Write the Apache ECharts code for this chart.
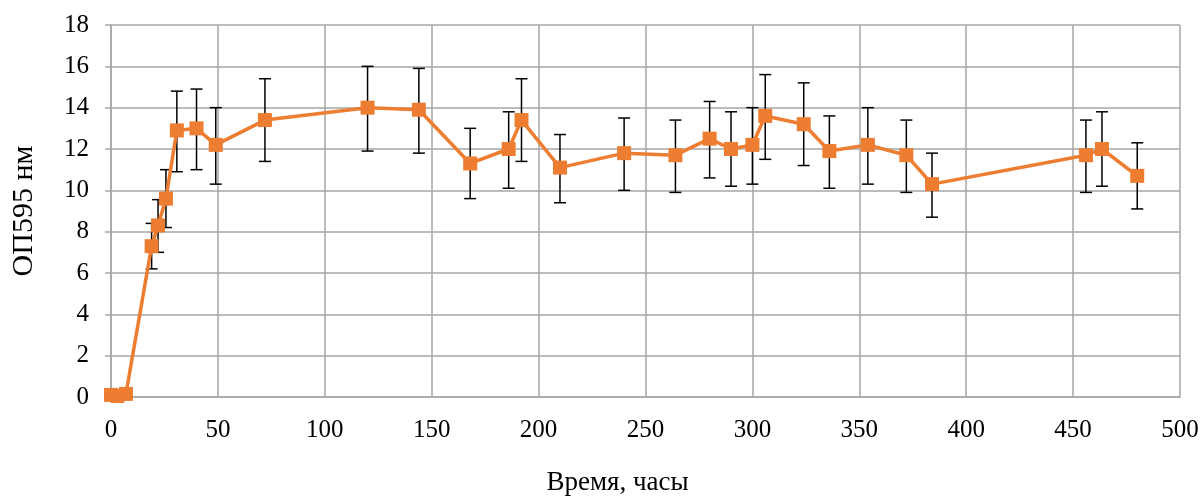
<!DOCTYPE html>
<html>
<head>
<meta charset="utf-8">
<script src="https://cdn.jsdelivr.net/npm/echarts@6/dist/echarts.min.js"></script>
<style>
  html, body { margin: 0; padding: 0; background: #fff; }
  #chart { width: 1204px; height: 497px; }
</style>
</head>
<body>
<div id="chart"></div>
<script>
// время, часы
var hours = [0, 3, 7, 19, 22, 25.7, 30.8, 40, 49, 72, 120, 144, 168, 186, 192, 210, 240, 264, 280, 290, 300, 306, 324, 336, 354, 372, 384, 456, 463.5, 480];
// ОП595
var od = [0.1, 0.05, 0.15, 7.3, 8.3, 9.6, 12.9, 13.0, 12.2, 13.4, 14.0, 13.9, 11.3, 12.0, 13.4, 11.1, 11.8, 11.7, 12.5, 12.0, 12.2, 13.6, 13.2, 11.9, 12.2, 11.7, 10.3, 11.7, 12.0, 10.7];
// верх / низ планок погрешностей
var errTop = [null, null, null, 8.4, 9.55, 11.0, 14.8, 14.9, 14.0, 15.4, 16.0, 15.9, 13.0, 13.8, 15.4, 12.7, 13.5, 13.4, 14.3, 13.8, 14.0, 15.6, 15.2, 13.6, 14.0, 13.4, 11.8, 13.4, 13.8, 12.3];
var errBottom = [null, null, null, 6.2, 7.0, 8.2, 10.9, 11.0, 10.3, 11.4, 11.9, 11.8, 9.6, 10.1, 11.4, 9.4, 10.0, 9.9, 10.6, 10.2, 10.3, 11.5, 11.2, 10.1, 10.3, 9.9, 8.7, 9.9, 10.2, 9.1];

var lineData = hours.map(function (h, i) { return [h, od[i]]; });
var errData = [];
hours.forEach(function (h, i) {
  if (errTop[i] != null) errData.push([h, errBottom[i], errTop[i]]);
});

var font = "'Liberation Serif', 'Times New Roman', serif";
var chart = echarts.init(document.getElementById("chart"));
chart.setOption({
  animation: false,
  backgroundColor: "#fff",
  grid: { left: 111, right: 24, top: 25, bottom: 100, outerBoundsMode: "none", containLabel: false },
  xAxis: {
    type: "value",
    min: 0,
    max: 500,
    interval: 50,
    name: "Время, часы",
    nameLocation: "middle",
    nameGap: 72,
    nameTextStyle: { fontFamily: font, fontSize: 27, color: "#000", padding: [0, 56, 0, 0] },
    axisLine: { show: true, lineStyle: { color: "#a6a6a6", width: 1.5 } },
    axisTick: { show: false },
    axisLabel: { fontFamily: font, fontSize: 25, color: "#000", margin: 21 },
    splitLine: { show: true, lineStyle: { color: "#a6a6a6", width: 1.5 } },
  },
  yAxis: {
    type: "value",
    min: 0,
    max: 18,
    interval: 2,
    name: "ОП595 нм",
    nameLocation: "middle",
    nameGap: 72,
    nameTextStyle: { fontFamily: font, fontSize: 30, color: "#000" },
    axisLine: { show: true, lineStyle: { color: "#a6a6a6", width: 1.5 } },
    axisTick: { show: true, length: 6, lineStyle: { color: "#a6a6a6", width: 1.5 } },
    axisLabel: { fontFamily: font, fontSize: 25, color: "#000", margin: 22 },
    splitLine: { show: true, lineStyle: { color: "#a6a6a6", width: 1.5 } },
  },
  series: [
    {
      type: "custom",
      z: 1,
      data: errData,
      renderItem: function (params, api) {
        var x = api.value(0);
        var lo = api.coord([x, api.value(1)]);
        var hi = api.coord([x, api.value(2)]);
        var cap = 6;
        var style = { stroke: "#000", lineWidth: 1.5 };
        return {
          type: "group",
          children: [
            { type: "line", shape: { x1: lo[0], y1: lo[1], x2: hi[0], y2: hi[1] }, style: style },
            { type: "line", shape: { x1: lo[0] - cap, y1: lo[1], x2: lo[0] + cap, y2: lo[1] }, style: style },
            { type: "line", shape: { x1: hi[0] - cap, y1: hi[1], x2: hi[0] + cap, y2: hi[1] }, style: style },
          ],
        };
      },
    },
    {
      type: "line",
      z: 3,
      data: lineData,
      symbol: "rect",
      symbolSize: 14,
      showAllSymbol: true,
      lineStyle: { color: "#ed7d31", width: 3.5 },
      itemStyle: { color: "#ed7d31" },
    },
  ],
});
</script>
</body>
</html>
